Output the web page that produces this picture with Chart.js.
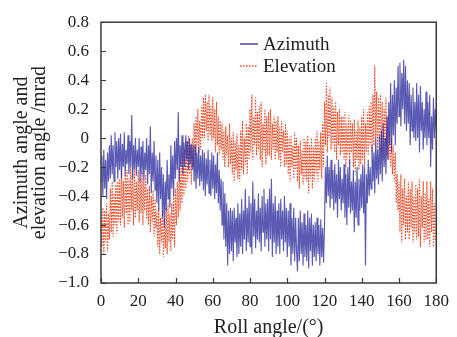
<!DOCTYPE html>
<html>
<head>
<meta charset="utf-8">
<script src="https://cdn.jsdelivr.net/npm/chart.js@4/dist/chart.umd.min.js"></script>
<style>
  html, body { margin: 0; padding: 0; background: #fff; }
  #wrap { width: 457px; height: 337px; }
</style>
</head>
<body>
<div id="wrap"><canvas id="rollChart" width="457" height="337"></canvas></div>
<script>
// roll angle grid (deg): one sample every half degree, 0..180
const rollStep = 0.5;

// azimuth angle, mrad (one row = 5 deg)
const azimuth = [
  -0.3, -0.12, -0.4, -0.08, -0.35, -0.15, -0.42, -0.1, -0.3, -0.05,
  -0.28, 0.02, -0.25, -0.05, -0.3, 0.04, -0.2, -0.02, -0.28, 0.0,
  -0.22, 0.03, -0.28, -0.04, -0.2, 0.04, -0.26, -0.08, -0.18, 0.02,
  -0.25, -0.02, -0.2, 0.16, -0.28, -0.05, -0.22, 0.0, -0.26, -0.08,
  -0.2, 0.0, -0.3, -0.06, -0.25, -0.02, -0.3, -0.1, -0.22, 0.0,
  -0.32, -0.05, -0.25, 0.08, -0.38, -0.1, -0.3, -0.02, -0.36, -0.12,
  -0.45, -0.15, -0.5, -0.1, -0.42, -0.2, -0.55, -0.25, -0.62, -0.3,
  -0.5, -0.15, -0.42, -0.25, -0.48, -0.05, -0.35, -0.12, -0.4, -0.02,
  -0.28, 0.0, -0.22, 0.18, -0.3, -0.05, -0.2, 0.02, -0.25, -0.03,
  -0.2, 0.02, -0.15, -0.02, -0.22, 0.0, -0.18, -0.04, -0.22, -0.05,
  -0.3, -0.05, -0.35, -0.1, -0.28, -0.06, -0.33, -0.12, -0.3, -0.08,
  -0.36, -0.1, -0.4, -0.14, -0.32, -0.08, -0.38, -0.15, -0.4, -0.1,
  -0.35, -0.12, -0.42, -0.18, -0.38, -0.1, -0.45, -0.22, -0.5, -0.28,
  -0.6, -0.3, -0.7, -0.38, -0.75, -0.45, -0.88, -0.5, -0.8, -0.48,
  -0.78, -0.5, -0.85, -0.48, -0.72, -0.55, -0.82, -0.45, -0.8, -0.52,
  -0.75, -0.42, -0.8, -0.5, -0.7, -0.35, -0.78, -0.48, -0.72, -0.4,
  -0.75, -0.45, -0.8, -0.3, -0.68, -0.42, -0.76, -0.5, -0.7, -0.38,
  -0.72, -0.48, -0.78, -0.4, -0.65, -0.35, -0.75, -0.45, -0.7, -0.42,
  -0.78, -0.35, -0.7, -0.28, -0.82, -0.45, -0.72, -0.4, -0.8, -0.5,
  -0.75, -0.45, -0.8, -0.42, -0.7, -0.5, -0.78, -0.4, -0.72, -0.48,
  -0.82, -0.5, -0.75, -0.45, -0.88, -0.55, -0.8, -0.48, -0.85, -0.55,
  -0.78, -0.92, -0.55, -0.85, -0.5, -0.8, -0.58, -0.88, -0.52, -0.82,
  -0.6, -0.85, -0.5, -0.9, -0.55, -0.78, -0.52, -0.88, -0.6, -0.82,
  -0.58, -0.85, -0.55, -0.8, -0.6, -0.88, -0.56, -0.82, -0.62, -0.86,
  -0.6, -0.2, -0.45, -0.12, -0.4, -0.2, -0.48, -0.15, -0.42, -0.22,
  -0.5, -0.18, -0.45, -0.25, -0.55, -0.15, -0.42, -0.2, -0.5, -0.28,
  -0.45, -0.18, -0.55, -0.25, -0.6, -0.2, -0.48, -0.15, -0.52, -0.3,
  -0.5, -0.22, -0.65, -0.3, -0.55, -0.2, -0.6, -0.28, -0.5, -0.25,
  -0.48, -0.18, -0.52, -0.2, -0.88, -0.25, -0.45, -0.15, -0.4, -0.2,
  -0.35, -0.05, -0.3, -0.1, -0.38, 0.0, -0.28, -0.08, -0.32, 0.02,
  -0.25, 0.05, -0.3, 0.1, -0.2, 0.0, -0.25, 0.15, -0.15, 0.25,
  -0.05, 0.38, -0.1, 0.3, 0.02, 0.4, -0.05, 0.35, 0.1, 0.5,
  0.15, 0.52, 0.08, 0.45, 0.2, 0.54, 0.1, 0.5, 0.05, 0.4,
  0.1, 0.38, -0.05, 0.3, 0.05, 0.35, 0.0, 0.25, -0.02, 0.38,
  0.0, 0.3, -0.1, 0.36, 0.05, 0.25, -0.08, 0.2, 0.0, 0.32,
  -0.05, 0.25, 0.0, 0.3, -0.2, 0.15, -0.08, 0.28, 0.0, 0.2,
  0.05
];

// elevation angle, mrad
const elevation = [
  -0.55, -0.75, -0.48, -0.8, -0.5, -0.72, -0.45, -0.78, -0.52, -0.7,
  -0.35, -0.65, -0.3, -0.68, -0.38, -0.6, -0.32, -0.66, -0.3, -0.58,
  -0.28, -0.6, -0.22, -0.55, -0.3, -0.62, -0.25, -0.52, -0.22, -0.6,
  -0.28, -0.58, -0.2, -0.5, -0.25, -0.6, -0.22, -0.55, -0.3, -0.5,
  -0.22, -0.58, -0.28, -0.52, -0.24, -0.6, -0.3, -0.5, -0.25, -0.56,
  -0.35, -0.6, -0.33, -0.65, -0.4, -0.58, -0.36, -0.68, -0.42, -0.62,
  -0.5, -0.75, -0.48, -0.8, -0.55, -0.72, -0.5, -0.82, -0.56, -0.76,
  -0.48, -0.8, -0.45, -0.72, -0.52, -0.78, -0.45, -0.7, -0.4, -0.75,
  -0.35, -0.6, -0.3, -0.55, -0.2, -0.5, -0.15, -0.45, -0.1, -0.4,
  -0.08, -0.35, -0.02, -0.3, 0.02, -0.25, -0.05, -0.32, 0.0, -0.2,
  0.1, -0.12, 0.15, -0.05, 0.2, -0.1, 0.12, -0.08, 0.22, 0.0,
  0.28, 0.0, 0.3, 0.05, 0.25, -0.02, 0.3, 0.02, 0.22, -0.02,
  0.28, 0.0, 0.2, -0.1, 0.25, -0.05, 0.15, -0.12, 0.12, -0.08,
  0.1, -0.15, 0.05, -0.2, 0.08, -0.12, 0.02, -0.2, 0.1, -0.18,
  0.0, -0.25, 0.04, -0.3, -0.02, -0.22, 0.03, -0.28, -0.05, -0.3,
  0.05, -0.22, 0.12, -0.25, 0.0, -0.18, 0.1, -0.25, 0.08, -0.15,
  0.2, -0.1, 0.3, -0.15, 0.15, -0.05, 0.28, -0.12, 0.18, -0.08,
  0.22, -0.15, 0.25, -0.2, 0.1, -0.1, 0.2, -0.18, 0.15, -0.12,
  0.18, -0.12, 0.2, -0.15, 0.1, -0.08, 0.15, -0.15, 0.12, -0.1,
  0.15, -0.15, 0.08, -0.2, 0.12, -0.1, 0.05, -0.2, 0.1, -0.18,
  0.05, -0.25, 0.0, -0.3, 0.02, -0.2, -0.05, -0.28, 0.04, -0.22,
  0.0, -0.3, -0.05, -0.35, -0.02, -0.25, -0.08, -0.32, 0.0, -0.28,
  -0.02, -0.3, 0.02, -0.38, -0.05, -0.28, 0.0, -0.35, -0.06, -0.3,
  0.0, -0.25, 0.05, -0.3, -0.02, -0.22, 0.04, -0.28, 0.1, -0.2,
  0.25, -0.05, 0.38, -0.1, 0.3, 0.0, 0.35, -0.08, 0.28, -0.05,
  0.22, -0.1, 0.25, -0.15, 0.18, -0.05, 0.2, -0.12, 0.15, -0.1,
  0.15, -0.15, 0.18, -0.2, 0.1, -0.12, 0.16, -0.18, 0.12, -0.1,
  0.1, -0.2, 0.13, -0.25, 0.05, -0.15, 0.12, -0.22, 0.08, -0.18,
  0.15, -0.15, 0.2, -0.2, 0.1, -0.1, 0.18, -0.12, 0.22, -0.05,
  0.25, -0.1, 0.3, -0.05, 0.5, 0.0, 0.32, -0.08, 0.28, -0.02,
  0.3, -0.1, 0.25, -0.15, 0.2, -0.05, 0.28, -0.12, 0.15, -0.15,
  0.05, -0.2, 0.0, -0.25, -0.05, -0.3, -0.1, -0.45, -0.25, -0.5,
  -0.3, -0.65, -0.25, -0.72, -0.35, -0.6, -0.28, -0.7, -0.4, -0.65,
  -0.3, -0.7, -0.35, -0.62, -0.3, -0.72, -0.4, -0.66, -0.32, -0.7,
  -0.35, -0.68, -0.28, -0.75, -0.4, -0.62, -0.3, -0.72, -0.38, -0.7,
  -0.3, -0.7, -0.42, -0.75, -0.3, -0.65, -0.35, -0.75, -0.45, -0.7,
  -0.7
];

const seriesNames = ['Azimuth', 'Elevation'];
const xTitle = 'Roll angle/(\u00b0)';
const yTitle = ['Azimuth angle and', 'elevation angle /mrad'];

const serif = '"Liberation Serif", "DejaVu Serif", serif';
const axisColor = '#3a3a3a';

function toPoints(arr) {
  return arr.map((v, i) => ({ x: i * rollStep, y: v }));
}

// inward ticks, box border and the legend inside the plot
const frameAndLegend = {
  id: 'frameAndLegend',
  afterDraw(chart) {
    const ctx = chart.ctx;
    const a = chart.chartArea;
    const xs = chart.scales.x, ys = chart.scales.y;
    ctx.save();
    ctx.strokeStyle = axisColor;
    ctx.lineWidth = 1.5;
    ctx.strokeRect(a.left, a.top, a.right - a.left, a.bottom - a.top);

    ctx.lineWidth = 1.2;
    ctx.beginPath();
    xs.ticks.forEach(t => {
      const px = Math.round(xs.getPixelForValue(t.value)) + 0.5;
      ctx.moveTo(px, a.bottom);
      ctx.lineTo(px, a.bottom - 5);
    });
    ys.ticks.forEach(t => {
      const py = Math.round(ys.getPixelForValue(t.value)) + 0.5;
      ctx.moveTo(a.left, py);
      ctx.lineTo(a.left + 5, py);
    });
    ctx.stroke();

    // legend
    ctx.font = '19px ' + serif;
    ctx.textBaseline = 'middle';
    ctx.fillStyle = '#222';
    chart.data.datasets.forEach((ds, i) => {
      const y = 44 + i * 22;
      ctx.strokeStyle = ds.borderColor;
      ctx.lineWidth = ds.borderWidth + 0.5;
      ctx.setLineDash(ds.borderDash || []);
      ctx.beginPath();
      ctx.moveTo(240, y);
      ctx.lineTo(258, y);
      ctx.stroke();
      ctx.setLineDash([]);
      ctx.fillText(ds.label, 263, y + 1);
    });
    ctx.restore();
  }
};

const ctx = document.getElementById('rollChart').getContext('2d');
const rollChart = new Chart(ctx, {
  type: 'line',
  data: {
    datasets: [{
      label: seriesNames[0],
      data: toPoints(azimuth),
      borderColor: 'rgba(50, 50, 160, 0.8)',
      borderWidth: 1.15,
      pointRadius: 0,
      tension: 0
    }, {
      label: seriesNames[1],
      data: toPoints(elevation),
      borderColor: '#ef4824',
      borderWidth: 1.1,
      borderDash: [1.5, 1.5],
      pointRadius: 0,
      tension: 0
    }]
  },
  options: {
    responsive: false,
    animation: false,
    devicePixelRatio: 1,
    layout: { padding: { left: 0, top: 19, right: 17, bottom: 0 } },
    plugins: {
      legend: { display: false },
      tooltip: { enabled: false }
    },
    scales: {
      x: {
        type: 'linear',
        min: 0,
        max: 180,
        afterFit: s => { s.height = 54; },
        border: { display: false },
        grid: { display: false, drawTicks: false },
        ticks: {
          stepSize: 20,
          padding: 8,
          maxRotation: 0,
          color: '#222',
          font: { family: serif, size: 17 }
        },
        title: {
          display: true,
          text: xTitle,
          color: '#222',
          font: { family: serif, size: 20, lineHeight: 0.9 },
          padding: { top: 4, bottom: 0 }
        }
      },
      y: {
        min: -1.0,
        max: 0.8,
        afterFit: s => { s.width = 101; },
        border: { display: false },
        grid: { display: false, drawTicks: false },
        ticks: {
          stepSize: 0.2,
          padding: 12,
          color: '#222',
          font: { family: serif, size: 17 },
          callback: v => {
            const r = Math.round(v * 10) / 10;
            if (r === 0) return '0';
            return (r < 0 ? '\u2212' : '') + Math.abs(r).toFixed(1);
          }
        },
        title: {
          display: true,
          text: yTitle,
          color: '#222',
          font: { family: serif, size: 20, lineHeight: 0.9 },
          padding: { top: 13, bottom: 0 }
        }
      }
    }
  },
  plugins: [frameAndLegend]
});
</script>
</body>
</html>
